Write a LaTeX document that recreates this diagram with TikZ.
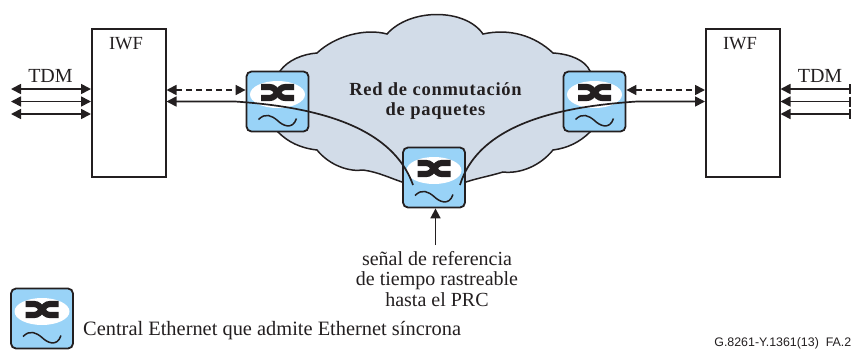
\documentclass[tikz,border=0pt]{standalone}
\usepackage{fontspec}
\setmainfont{Liberation Serif}
\setsansfont{Liberation Sans}
\newfontfamily\widefont[LetterSpace=4]{Liberation Serif}
\usetikzlibrary{arrows.meta}
\definecolor{inkline}{HTML}{231F20}
\definecolor{cloudfill}{HTML}{D2DCE8}
\definecolor{switchfill}{HTML}{99D3F7}
\tikzset{
  iwfbox/.style={draw=inkline,line width=1.5pt,fill=white,minimum width=74pt,minimum height=148pt,inner sep=0pt},
  switchbox/.style={draw=inkline,line width=1.8pt,fill=switchfill,rounded corners=5pt,minimum width=62pt,minimum height=60pt,inner sep=0pt},
  label/.style={text=inkline,font=\fontsize{20}{20.5}\selectfont,inner sep=0pt,align=center},
  link/.style={draw=inkline,line width=1.7pt},
  bilink/.style={link,{Triangle[length=10pt,width=10pt]}-{Triangle[length=10pt,width=10pt]}},
}
\newcommand{\swicon}[1]{
  \begin{scope}[shift={(#1)}]
    \fill[white] (0,-7) ellipse (27.5 and 13.5);
    \draw[inkline,line width=6.2pt] (-16.5,-14.5) -- (-8,-14.5) .. controls (0,-14.5) and (0,-3.5) .. (8,-3.5) -- (16.5,-3.5);
    \draw[inkline,line width=6.2pt] (-16.5,-3.5) -- (-8,-3.5) .. controls (0,-3.5) and (0,-14.5) .. (8,-14.5) -- (16.5,-14.5);
    \draw[inkline,line width=1.5pt] (-19,18) .. controls (-12,11) and (-6,14) .. (0,19) .. controls (5,24) and (15,29) .. (19,17);
  \end{scope}
}
\begin{document}
\begin{tikzpicture}[x=1pt,y=-1pt]
  \useasboundingbox (0,0) rectangle (852,349);
  % cloud
  \draw[draw=inkline,fill=cloudfill,line width=1.5pt]
    (280,71) .. controls (288,60) and (303,54) .. (317,53)
    .. controls (335,36) and (365,28) .. (387,34)
    .. controls (410,8) and (465,8) .. (483,34)
    .. controls (510,28) and (535,36) .. (553,53)
    .. controls (570,54) and (585,60) .. (590,71)
    -- (590,132)
    .. controls (580,142) and (568,148) .. (553,150)
    .. controls (540,166) and (520,174) .. (503,172)
    .. controls (490,176) and (478,178) .. (466,182)
    -- (402,182)
    .. controls (390,178) and (378,172) .. (363,170)
    .. controls (350,172) and (330,166) .. (317,150)
    .. controls (300,148) and (288,142) .. (278,132)
    -- cycle;
  \node[iwfbox,anchor=north west] (iwfl) at (91,28) {};
  \node[iwfbox,anchor=north west] (iwfr) at (705,28) {};
  \node[label,font=\fontsize{18.5}{22}\selectfont,anchor=north] (iwfltext) at (126,37) {IWF};
  \node[label,font=\fontsize{18.5}{22}\selectfont,anchor=north] (iwfrtext) at (740,37) {IWF};
  \node[label] (tdml) at (50.5,76) {TDM};
  \node[label] (tdmr) at (820,76) {TDM};
  % switches
  \node[switchbox] (swl) at (277.5,101.5) {};
  \node[switchbox] (swr) at (594.5,101.5) {};
  \node[switchbox] (swc) at (434,177.5) {};
  \node[switchbox] (swk) at (42,318.5) {};
  \swicon{swl}
  \swicon{swr}
  \swicon{swc}
  \swicon{swk}
  \node[label,font=\fontsize{18.5}{20}\widefont\bfseries] (net) at (435.5,101) {Red de conmutación\\de paquetes};
  % tdm arrows
  \foreach \row/\ypos in {1/89,2/101.5,3/114}{
    \coordinate (tl\row) at (11,\ypos);
    \coordinate (tr\row) at (851,\ypos);
    \draw[bilink] (tl\row) to (iwfl.west |- tl\row);
    \draw[link,{Triangle[length=10pt,width=10pt]}-{Bar[width=10pt]}] (iwfr.east |- tr\row) to (tr\row);
  }
  % dashed links
  \draw[bilink,dashed,dash pattern=on 6pt off 4pt] (iwfl.east |- 0,90) to (swl.west |- 0,90);
  \draw[bilink,dashed,dash pattern=on 6pt off 4pt] (swr.east |- 0,90) to (iwfr.west |- 0,90);
  % links through the switches
  \draw[link,{Triangle[length=10pt,width=10pt]}-] (iwfl.east |- 0,101.5) -- (235,101.5) .. controls (300,106) and (390,120) .. (413,185);
  \draw[link,-{Triangle[length=10pt,width=10pt]}] (460,185) .. controls (480,120) and (570,106) .. (637,101.5) -- (iwfr.west |- 0,101.5);
  % reference input
  \node[label] (ref) at (437,279) {señal de referencia\\de tiempo rastreable\\hasta el PRC};
  \coordinate (refup) at (435.5,245);
  \draw[link,-{Triangle[length=10pt,width=10pt]}] (refup) to (swc.south -| refup);
  % legend
  \node[label,font=\fontsize{20.4}{22}\selectfont,anchor=west] (legend) at (83,331) {Central Ethernet que admite Ethernet síncrona};
  \node[text=inkline,font=\sffamily\fontsize{12.4}{14}\selectfont,inner sep=0pt,anchor=east] (tag) at (851.5,343) {G.8261-Y.1361(13)\ \ FA.2};
\end{tikzpicture}
\end{document}
